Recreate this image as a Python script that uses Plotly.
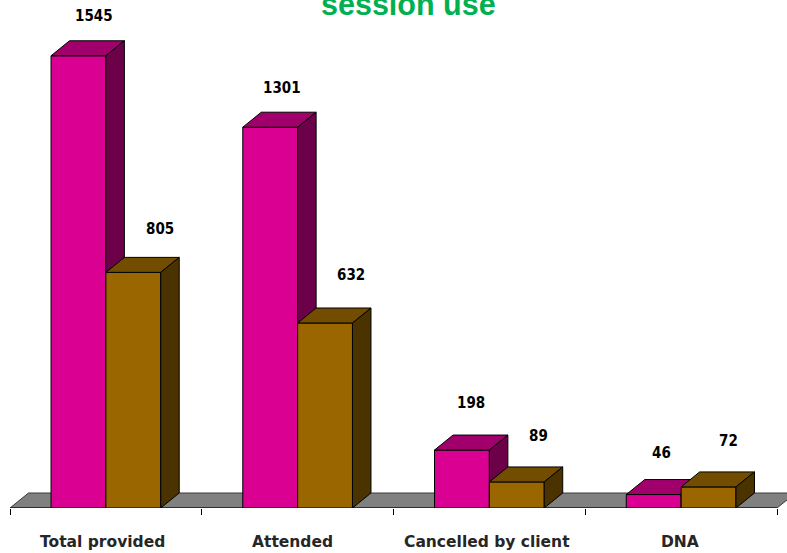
import plotly.graph_objects as go

# ---- data ----
categories = ["Total provided", "Attended", "Cancelled by client", "DNA"]
series_a = [1545, 1301, 198, 46]   # magenta series
series_b = [805, 632, 89, 72]      # brown series
title_text = "session use"

# ---- style / geometry (in axis units) ----
W, H = 787, 553
ML, MR, MT, MB = 10, 0, 0, 45
PX_X = 191.75            # pixels per category unit
PX_Y = 0.2927            # pixels per value unit
X_MAX = (W - ML - MR) / PX_X
Y_MAX = (H - MT - MB) / PX_Y
DX = 18.5 / PX_X         # depth offset in x units
DY = 15.0 / PX_Y         # depth offset in y units
BAR_W = 0.286
OFFS = [0.357, 0.643]

colors = [
    dict(front="#DA0092", top="#A1006C", side="#6C0049"),
    dict(front="#9A6600", top="#724D00", side="#4B3300"),
]
# per-bar label pixel shifts (style)
label_xshift = [[16, 12, 9, 8], [27, 26, 22, 20]]
label_yshift = [[40, 39, 47, 42], [43, 48, 46, 46]]
cat_label_pos = [0.482, 1.471, 2.488, 3.494]

fig = go.Figure()

def poly(xs, ys, fill, line="#000000", lw=1):
    fig.add_trace(go.Scatter(
        x=xs + [xs[0]], y=ys + [ys[0]], mode="lines", fill="toself",
        fillcolor=fill, line=dict(color=line, width=lw),
        hoverinfo="skip", showlegend=False))

n = len(categories)
# floor
poly([0, DX, n + DX, n], [0, DY, DY, 0], "#808080", line="#3a3a3a", lw=1)
# front edge of floor (axis line)
fig.add_trace(go.Scatter(x=[0, n], y=[0, 0], mode="lines",
                         line=dict(color="#000000", width=1.2),
                         hoverinfo="skip", showlegend=False))

annotations = []
for i in range(n):
    for s, vals in enumerate([series_a, series_b]):
        v = vals[i]
        c = colors[s]
        x0 = i + OFFS[s] - BAR_W / 2
        x1 = i + OFFS[s] + BAR_W / 2
        # front face
        poly([x0, x1, x1, x0], [0, 0, v, v], c["front"])
        # top face
        poly([x0, x1, x1 + DX, x0 + DX], [v, v, v + DY, v + DY], c["top"])
        # side face
        poly([x1, x1 + DX, x1 + DX, x1], [0, DY, v + DY, v], c["side"])
        annotations.append(dict(
            x=i + OFFS[s], y=v, xref="x", yref="y", text=f"<b>{v}</b>",
            showarrow=False, xshift=label_xshift[s][i], yshift=label_yshift[s][i],
            yanchor="middle",
            font=dict(family="DejaVu Sans Condensed, DejaVu Sans", size=15, color="#000000")))
    annotations.append(dict(
        x=cat_label_pos[i], y=0, xref="x", yref="paper", text=f"<b>{categories[i]}</b>",
        showarrow=False, yshift=-34, yanchor="middle",
        font=dict(family="DejaVu Sans", size=15.5, color="#262626")))

annotations.append(dict(
    x=(408 - ML) / PX_X, y=1, xref="x", yref="paper", text=f"<b>{title_text}</b>",
    showarrow=False, yanchor="middle", yshift=-4,
    font=dict(family="Liberation Sans, Arial", size=30.5, color="#00B050")))

fig.update_layout(
    width=W, height=H,
    margin=dict(l=ML, r=MR, t=MT, b=MB, pad=0),
    paper_bgcolor="#FFFFFF", plot_bgcolor="#FFFFFF",
    showlegend=False,
    xaxis=dict(range=[0, X_MAX], showgrid=False, zeroline=False, showline=False,
               tickvals=list(range(n + 1)), ticktext=[""] * (n + 1),
               ticks="outside", ticklen=6, tickcolor="#000000", tickwidth=1,
               fixedrange=True),
    yaxis=dict(range=[0, Y_MAX], showgrid=False, zeroline=False, showline=False,
               showticklabels=False, ticks="", fixedrange=True),
    annotations=annotations,
)

fig.write_html("out.html")
